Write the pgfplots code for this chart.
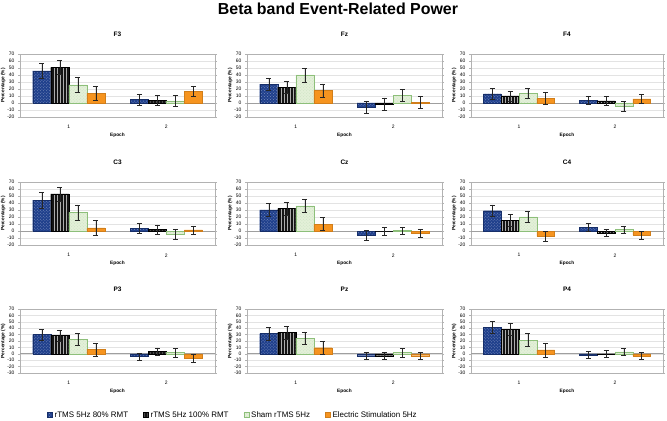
\documentclass[border=0pt]{standalone}
\usepackage{fontspec}
\setmainfont{Liberation Sans}
\usepackage{pgfplots}
\pgfplotsset{compat=1.18}
\usepackage{pgfplotstable}
\usetikzlibrary{patterns}

\definecolor{cBlue}{HTML}{1F3F8C}
\definecolor{cBlack}{HTML}{141414}
\definecolor{cSham}{HTML}{E3F0D8}
\definecolor{cShamE}{HTML}{8DBF7A}
\definecolor{cOrange}{HTML}{F6941F}

% columns: epoch, mean and error for the four conditions
\pgfplotstableread{
x a ae b be c ce d de
1 46 10.5 51 10 26 11 14 10.5
2 5 7.5 4 7.5 3 7.5 17 7
}\tFthree
\pgfplotstableread{
x a ae b be c ce d de
1 27 9 22.5 9 40 10 18 9.5
2 -6 8.5 -1.5 9 11 9 1 9
}\tFz
\pgfplotstableread{
x a ae b be c ce d de
1 13 8 10 7 14 7.5 7 8
2 4 6 3 6.5 -4.5 6.5 6 6
}\tFfour
\pgfplotstableread{
x a ae b be c ce d de
1 44 11 53 10 26.5 11 4.5 10.5
2 4 6.5 2.5 6.5 -5 7 1.5 6
}\tCthree
\pgfplotstableread{
x a ae b be c ce d de
1 30 9.5 32 9 36 9 10 9.5
2 -6 7 0 5.5 1 5 -3 5.5
}\tCz
\pgfplotstableread{
x a ae b be c ce d de
1 29 8.5 15 8.5 20 8 -7.5 7.5
2 5.5 5.5 -3 5 2.5 5 -6 5.5
}\tCfour
\pgfplotstableread{
x a ae b be c ce d de
1 30 8.5 29 8.5 23 9.5 6.5 9.5
2 -4 5.5 4 5.5 2 6.5 -6.5 6.5
}\tPthree
\pgfplotstableread{
x a ae b be c ce d de
1 31.5 10 33.5 10 24.5 10 9.5 9.5
2 -3 5.5 -3 5.5 2 6.5 -3 6
}\tPz
\pgfplotstableread{
x a ae b be c ce d de
1 41 9.5 38.5 10 21.5 10 6 10.5
2 -1.5 5.5 0 5.5 3 5.5 -3.5 5.5
}\tPfour

\pgfplotsset{
  sA/.style={fill=cBlue, draw=cBlue!75!black, line width=0.3bp,
    postaction={pattern=crosshatch dots, pattern color=cBlue!60!white}},
  sB/.style={fill=cBlack, draw=black, line width=0.3bp,
    postaction={pattern=vertical lines, pattern color=black!32}},
  sC/.style={fill=cSham, draw=cShamE, line width=0.4bp,
    postaction={pattern=crosshatch dots, pattern color=cShamE!45!white}},
  sD/.style={fill=cOrange, draw=cOrange!85!black, line width=0.3bp},
  panel/.style={
    scale only axis, anchor=north west,
    xmin=0.5, xmax=2.5, ymax=70,
    xtick={1,2}, ytick={-30,-20,...,70},
    ybar=0pt, bar width=0.185,
    ymajorgrids, major grid style={gray!22, line width=0.3bp},
    axis line style={gray!60, line width=0.4bp},
    tick style={gray!60, line width=0.4bp},
    tick align=outside, major tick length=2bp,
    xtick style={draw=none},
    ticklabel style={font=\fontsize{5}{5}\selectfont},
    /pgf/number format/assume math mode=true,
    xticklabel style={yshift=-3bp},
    title style={font=\bfseries\fontsize{6.5}{7}\selectfont, yshift=8bp},
    xlabel={Epoch}, ylabel={Percentage (\%)},
    label style={font=\bfseries\fontsize{4.8}{5}\selectfont},
    xlabel style={at={(axis description cs:0.5,0)}, anchor=center, yshift=-18bp},
    extra y ticks={0}, extra y tick labels={},
    extra y tick style={grid=major, major grid style={gray!75, line width=0.6bp}},
    error bars/y dir=both, error bars/y explicit,
    error bars/error mark=-,
    error bars/error bar style={black!85, line width=0.35bp},
    error bars/error mark options={rotate=90, black!85, line width=0.35bp, mark size=2.4bp},
    legend image code/.code={\draw[#1] (0bp,-2.6bp) rectangle (5.2bp,2.6bp);},
  },
}
\newcommand{\bars}[1]{%
  \addplot[sA] table[x=x, y=a, y error=ae]{#1};
  \addplot[sB] table[x=x, y=b, y error=be]{#1};
  \addplot[sC] table[x=x, y=c, y error=ce]{#1};
  \addplot[sD] table[x=x, y=d, y error=de]{#1};
}

\begin{document}
\begin{tikzpicture}
\useasboundingbox (0,0) rectangle (667bp,421bp);
\node[font=\bfseries\fontsize{16}{18}\selectfont] at (338bp,412bp) {Beta band Event-Related Power};

% row 1
\begin{axis}[panel, at={(20bp,367bp)}, width=195bp, height=63bp, ymin=-20, title={F3},
  ylabel style={at={(axis description cs:-0.087,0.5)}, anchor=center}]
\bars{\tFthree}
\end{axis}
\begin{axis}[panel, at={(247bp,367bp)}, width=195bp, height=63bp, ymin=-20, title={Fz},
  ylabel style={at={(axis description cs:-0.087,0.5)}, anchor=center}]
\bars{\tFz}
\end{axis}
\begin{axis}[panel, at={(471bp,367bp)}, width=192bp, height=63bp, ymin=-20, title={F4},
  ylabel style={at={(axis description cs:-0.088,0.5)}, anchor=center}]
\bars{\tFfour}
\end{axis}

% row 2
\begin{axis}[panel, at={(20bp,239bp)}, width=195bp, height=63bp, ymin=-20, title={C3},
  ylabel style={at={(axis description cs:-0.087,0.5)}, anchor=center}]
\bars{\tCthree}
\end{axis}
\begin{axis}[panel, at={(247bp,239bp)}, width=195bp, height=63bp, ymin=-20, title={Cz},
  ylabel style={at={(axis description cs:-0.087,0.5)}, anchor=center}]
\bars{\tCz}
\end{axis}
\begin{axis}[panel, at={(471bp,239bp)}, width=192bp, height=63bp, ymin=-20, title={C4},
  ylabel style={at={(axis description cs:-0.088,0.5)}, anchor=center}]
\bars{\tCfour}
\end{axis}

% row 3
\begin{axis}[panel, at={(20bp,112bp)}, width=195bp, height=64bp, ymin=-30, title={P3},
  ylabel style={at={(axis description cs:-0.087,0.5)}, anchor=center},
  legend columns=4,
  legend style={draw=none, fill=none, at={(axis description cs:0,0)}, anchor=west,
    xshift=24bp, yshift=-42bp, font=\fontsize{8}{9}\selectfont,
    /tikz/every even column/.append style={column sep=13bp}}]
\bars{\tPthree}
\legend{rTMS 5Hz 80\% RMT, rTMS 5Hz 100\% RMT, Sham rTMS 5Hz, Electric Stimulation 5Hz}
\end{axis}
\begin{axis}[panel, at={(247bp,112bp)}, width=195bp, height=64bp, ymin=-30, title={Pz},
  ylabel style={at={(axis description cs:-0.087,0.5)}, anchor=center}]
\bars{\tPz}
\end{axis}
\begin{axis}[panel, at={(471bp,112bp)}, width=192bp, height=64bp, ymin=-30, title={P4},
  ylabel style={at={(axis description cs:-0.088,0.5)}, anchor=center}]
\bars{\tPfour}
\end{axis}
\end{tikzpicture}
\end{document}
